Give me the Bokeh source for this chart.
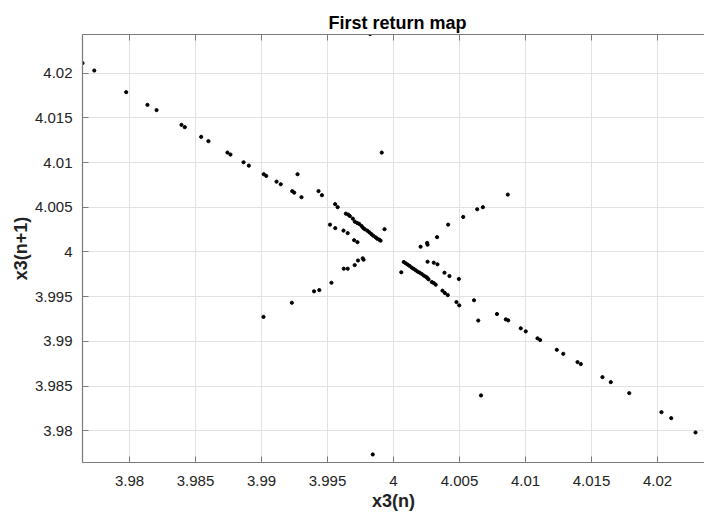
from bokeh.plotting import figure
from bokeh.models import Range1d, FixedTicker, LinearAxis
from bokeh.embed import file_html
from bokeh.resources import INLINE

# x3(n) values
x_n = [
    3.97644, 3.97733, 3.97975, 3.98136, 3.98205, 3.98394, 3.98419, 3.98543, 3.98598,
    3.98742, 3.98765, 3.98864, 3.98904, 3.99017, 3.99036, 3.99114, 3.99146, 3.99233,
    3.99248, 3.99273, 3.99303, 3.99432, 3.99458, 3.99558, 3.99577,
    3.99639, 3.99657, 3.99669, 3.99692, 3.99707, 3.99725, 3.99740, 3.99758, 3.99770,
    3.99783, 3.99801, 3.99816, 3.99831, 3.99846, 3.99864, 3.99876, 3.99892, 3.99902,
    3.99932, 3.99911, 3.99823,
    3.99519, 3.99559, 3.99621, 3.99653, 3.99702, 3.99727,
    3.99015, 3.99230, 3.99398, 3.99438, 3.99530, 3.99623, 3.99653, 3.99706, 3.99731,
    3.99767, 3.99773,
    4.00059, 4.00078, 4.00093, 4.00108, 4.00123, 4.00139, 4.00154, 4.00169, 4.00184,
    4.00199, 4.00214, 4.00230, 4.00245, 4.00255, 4.00265, 4.00290, 4.00305, 4.00320,
    4.00258, 4.00305, 4.00333, 4.00386, 4.00424, 4.00495, 4.00371, 4.00389, 4.00411,
    4.00477, 4.00498,
    4.00205, 4.00255, 4.00258, 4.00330, 4.00414, 4.00528, 4.00634, 4.00677, 4.00866,
    4.00610, 4.00642, 4.00784, 4.00851, 4.00869, 4.00964, 4.01002, 4.01091, 4.01111,
    4.01237, 4.01286, 4.01394, 4.01419, 4.01583, 4.01646, 4.01786, 4.02030, 4.02104,
    4.02288, 4.00663, 3.99843,
]

# x3(n+1) values
x_n1 = [
    4.02113, 4.02030, 4.01788, 4.01646, 4.01587, 4.01422, 4.01396, 4.01288, 4.01240,
    4.01112, 4.01090, 4.01004, 4.00966, 4.00870, 4.00851, 4.00787, 4.00758, 4.00680,
    4.00664, 4.00870, 4.00613, 4.00681, 4.00635, 4.00535, 4.00501,
    4.00429, 4.00418, 4.00403, 4.00373, 4.00339, 4.00325, 4.00314, 4.00291, 4.00269,
    4.00254, 4.00239, 4.00221, 4.00202, 4.00183, 4.00165, 4.00149, 4.00138, 4.00127,
    4.00255, 4.01112, 4.02438,
    4.00306, 4.00267, 4.00239, 4.00211, 4.00132, 4.00110,
    3.99274, 3.99432, 3.99560, 3.99574, 3.99656, 3.99813, 3.99813, 3.99853, 3.99905,
    3.99929, 3.99914,
    3.99773, 3.99888, 3.99873, 3.99858, 3.99843, 3.99824, 3.99810, 3.99795, 3.99779,
    3.99768, 3.99754, 3.99735, 3.99723, 3.99712, 3.99694, 3.99664, 3.99653, 3.99634,
    3.99891, 3.99880, 3.99862, 3.99768, 3.99731, 3.99698, 3.99567, 3.99541, 3.99518,
    3.99440, 3.99403,
    4.00059, 4.00101, 4.00082, 4.00166, 4.00306, 4.00392, 4.00478, 4.00501, 4.00642,
    3.99460, 3.99233, 3.99306, 3.99246, 3.99235, 3.99146, 3.99112, 3.99034, 3.99015,
    3.98906, 3.98861, 3.98768, 3.98746, 3.98600, 3.98544, 3.98421, 3.98208, 3.98141,
    3.97981, 3.98395, 3.97735,
]

tick_values = [3.98, 3.985, 3.99, 3.995, 4.0, 4.005, 4.01, 4.015, 4.02]
tick_labels = ["3.98", "3.985", "3.99", "3.995", "4", "4.005", "4.01", "4.015", "4.02"]

AX = "#7a7a7a"
TXT = "#222222"
FONT = "Liberation Sans"

p = figure(width=704, height=513, output_backend="svg", toolbar_location=None,
           x_range=Range1d(3.97644, 4.02356), y_range=Range1d(3.97645, 4.02433),
           min_border_left=82, min_border_right=0, min_border_top=34, min_border_bottom=51,
           title="First return map")
p.outline_line_color = None
p.background_fill_color = "white"
p.border_fill_color = "white"

p.title.align = "left"
p.title.offset = 246
p.title.text_font = FONT
p.title.text_font_size = "18px"
p.title.text_font_style = "bold"
p.title.text_color = "black"
p.title.standoff = 3

ticker = FixedTicker(ticks=tick_values)
overrides = {v: s for v, s in zip(tick_values, tick_labels)}

for ax in (p.xaxis[0], p.yaxis[0]):
    ax.ticker = ticker
    ax.major_label_overrides = overrides
    ax.axis_line_color = AX
    ax.axis_line_width = 1.2
    ax.major_tick_line_color = AX
    ax.major_tick_in = 6
    ax.major_tick_out = 0
    ax.minor_tick_line_color = None
    ax.major_label_text_font = FONT
    ax.major_label_text_font_size = "15px"
    ax.major_label_text_color = TXT
    ax.axis_label_text_font = FONT
    ax.axis_label_text_font_size = "18px"
    ax.axis_label_text_font_style = "bold"
    ax.axis_label_text_color = TXT

p.xaxis[0].axis_label = "x3(n)"
p.yaxis[0].axis_label = "x3(n+1)"
p.xaxis[0].major_label_standoff = 13
p.xaxis[0].axis_label_standoff = 2
p.yaxis[0].major_label_standoff = 10
p.yaxis[0].axis_label_standoff = 1

# top frame edge with inward ticks (MATLAB box), labels not drawn
top = LinearAxis(ticker=ticker, axis_line_color=AX, axis_line_width=1.2,
                 major_tick_line_color=AX, major_tick_in=6, major_tick_out=0,
                 minor_tick_line_color=None, major_label_text_font_size="1px",
                 major_label_text_color=None, major_label_standoff=0)
p.add_layout(top, "above")

p.xgrid.ticker = ticker
p.ygrid.ticker = ticker
p.xgrid.grid_line_color = "#e2e2e2"
p.ygrid.grid_line_color = "#e2e2e2"

p.scatter(x_n, x_n1, size=3.2, color="black")

open("out.html", "w").write(file_html(p, INLINE))
